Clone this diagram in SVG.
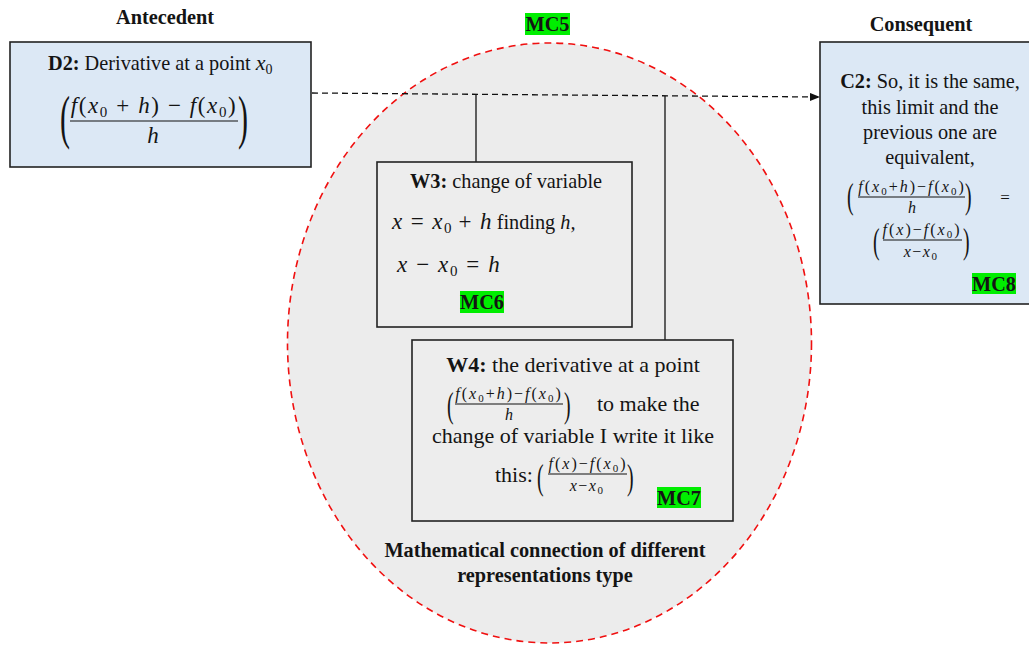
<svg xmlns="http://www.w3.org/2000/svg" width="1029" height="645" viewBox="0 0 1029 645" font-family="'Liberation Serif', serif">
<defs>
<style>
text{fill:#141414;}
.t{font-size:20.3px;}
.w{font-size:22px;}
.b{font-weight:bold;}
.h{font-size:20.3px;font-weight:bold;}
.m{font-style:italic;}
.box{fill:#dce8f5;stroke:#222;stroke-width:1.6;}
.wbox{fill:#ededed;stroke:#222;stroke-width:1.6;}
.tag{fill:#00ee00;}
.fl{stroke:#111;stroke-width:1.1;}
.con{stroke:#111;stroke-width:1.3;fill:none;}
.sf{font-size:16px;letter-spacing:2px;}
</style>
<marker id="arr" markerWidth="10" markerHeight="8" refX="9" refY="4" orient="auto" markerUnits="userSpaceOnUse">
<path d="M0,0 L10,4 L0,8 z" fill="#111"/>
</marker>
</defs>
<rect width="1029" height="645" fill="#fff"/>

<g id="mc5-region">
<ellipse cx="549.5" cy="343" rx="262" ry="300" fill="#ececec" stroke="#f01010" stroke-width="1.6" stroke-dasharray="7,5"/>
<rect class="tag" x="525" y="13" width="45" height="22"/>
<text class="h" x="547.5" y="31" text-anchor="middle">MC5</text>
<text class="h" x="545" y="557" text-anchor="middle">Mathematical connection of different</text>
<text class="h" x="545" y="582" text-anchor="middle">representations type</text>
</g>

<g id="labels">
<text class="h" x="165" y="24" text-anchor="middle">Antecedent</text>
<text class="h" x="921" y="31" text-anchor="middle">Consequent</text>
</g>

<g id="connectors">
<line class="con" x1="312" y1="93" x2="819" y2="97" stroke-dasharray="6,4" marker-end="url(#arr)"/>
<line class="con" x1="476" y1="95" x2="476" y2="162"/>
<line class="con" x1="665" y1="96" x2="665" y2="340"/>
</g>

<g id="D2">
<rect class="box" x="10" y="42" width="301" height="125"/>
<text class="t" x="48" y="70"><tspan class="b">D2:</tspan> Derivative at a point <tspan class="m" font-size="22">x</tspan><tspan font-size="14" dy="4">0</tspan></text>
<text transform="translate(60,137) scale(0.5,1)" font-size="60">(</text>
<text transform="translate(238,137) scale(0.5,1)" font-size="60">)</text>
<text x="154" y="113" text-anchor="middle" font-size="23" letter-spacing="1.6"><tspan class="m">f</tspan>(<tspan class="m">x</tspan><tspan font-size="15" dy="4">0</tspan><tspan dy="-4"> + </tspan><tspan class="m">h</tspan>) − <tspan class="m">f</tspan>(<tspan class="m">x</tspan><tspan font-size="15" dy="4">0</tspan><tspan dy="-4">)</tspan></text>
<line class="fl" x1="70" y1="121" x2="238" y2="121"/>
<text class="m" x="153" y="143" text-anchor="middle" font-size="23">h</text>
</g>

<g id="C2">
<rect class="box" x="820" y="42" width="215" height="262"/>
<text class="t" x="930" y="88" text-anchor="middle"><tspan class="b">C2:</tspan> So, it is the same,</text>
<text class="t" x="930" y="114" text-anchor="middle">this limit and the</text>
<text class="t" x="930" y="139" text-anchor="middle">previous one are</text>
<text class="t" x="930" y="164" text-anchor="middle">equivalent,</text>
<text transform="translate(847,208) scale(0.55,1)" font-size="36">(</text>
<text transform="translate(965,208) scale(0.55,1)" font-size="36">)</text>
<text class="sf" x="912" y="192" text-anchor="middle"><tspan class="m">f</tspan>(<tspan class="m">x</tspan><tspan font-size="11" dy="3">0</tspan><tspan dy="-3">+</tspan><tspan class="m">h</tspan>)−<tspan class="m">f</tspan>(<tspan class="m">x</tspan><tspan font-size="11" dy="3">0</tspan><tspan dy="-3">)</tspan></text>
<line class="fl" x1="858" y1="197" x2="965" y2="197"/>
<text class="m" x="912" y="213" text-anchor="middle" font-size="16">h</text>
<text x="1005" y="203" text-anchor="middle" font-size="17" fill="#777">=</text>
<text transform="translate(873,253) scale(0.55,1)" font-size="36">(</text>
<text transform="translate(963,253) scale(0.55,1)" font-size="36">)</text>
<text class="sf" x="922" y="235" text-anchor="middle"><tspan class="m">f</tspan>(<tspan class="m">x</tspan>)−<tspan class="m">f</tspan>(<tspan class="m">x</tspan><tspan font-size="11" dy="3">0</tspan><tspan dy="-3">)</tspan></text>
<line class="fl" x1="883" y1="240" x2="962" y2="240"/>
<text x="921" y="257" text-anchor="middle" font-size="16" letter-spacing="1.5"><tspan class="m">x</tspan>−<tspan class="m">x</tspan><tspan font-size="11" dy="3">0</tspan></text>
<rect class="tag" x="972" y="273" width="44" height="21"/>
<text class="h" x="994" y="291" text-anchor="middle">MC8</text>
</g>

<g id="W3">
<rect class="wbox" x="377" y="162" width="255" height="165"/>
<text class="t" x="410" y="188"><tspan class="b">W3:</tspan> change of variable</text>
<text x="392" y="229" font-size="23"><tspan letter-spacing="1.4"><tspan class="m">x</tspan> = <tspan class="m">x</tspan></tspan><tspan font-size="15" dy="4">0</tspan><tspan dy="-4" letter-spacing="1.4"> + </tspan><tspan class="m">h</tspan><tspan font-size="20.3"> finding </tspan><tspan class="m" font-size="20.3">h,</tspan></text>
<text x="397" y="272" font-size="23" letter-spacing="1.6"><tspan class="m">x</tspan> − <tspan class="m">x</tspan><tspan font-size="15" dy="4">0</tspan><tspan dy="-4"> = </tspan><tspan class="m">h</tspan></text>
<rect class="tag" x="460" y="291" width="44" height="22"/>
<text class="h" x="482" y="309" text-anchor="middle">MC6</text>
</g>

<g id="W4">
<rect class="wbox" x="412" y="340" width="321" height="181"/>
<text class="w" x="573" y="372" text-anchor="middle"><tspan class="b">W4:</tspan> the derivative at a point</text>
<text transform="translate(447,417) scale(0.55,1)" font-size="36">(</text>
<text transform="translate(564,417) scale(0.55,1)" font-size="36">)</text>
<text class="sf" x="509" y="399" text-anchor="middle"><tspan class="m">f</tspan>(<tspan class="m">x</tspan><tspan font-size="11" dy="3">0</tspan><tspan dy="-3">+</tspan><tspan class="m">h</tspan>)−<tspan class="m">f</tspan>(<tspan class="m">x</tspan><tspan font-size="11" dy="3">0</tspan><tspan dy="-3">)</tspan></text>
<line class="fl" x1="455" y1="404" x2="563" y2="404"/>
<text class="m" x="509" y="420" text-anchor="middle" font-size="16">h</text>
<text class="w" x="597" y="411">to make the</text>
<text class="w" x="573" y="443" text-anchor="middle">change of variable I write it like</text>
<text class="w" x="495" y="482">this:</text>
<text transform="translate(537,489) scale(0.55,1)" font-size="36">(</text>
<text transform="translate(627,489) scale(0.55,1)" font-size="36">)</text>
<text class="sf" x="588" y="469" text-anchor="middle"><tspan class="m">f</tspan>(<tspan class="m">x</tspan>)−<tspan class="m">f</tspan>(<tspan class="m">x</tspan><tspan font-size="11" dy="3">0</tspan><tspan dy="-3">)</tspan></text>
<line class="fl" x1="548" y1="474" x2="627" y2="474"/>
<text x="587" y="491" text-anchor="middle" font-size="16" letter-spacing="1.5"><tspan class="m">x</tspan>−<tspan class="m">x</tspan><tspan font-size="11" dy="3">0</tspan></text>
<rect class="tag" x="657" y="487" width="44" height="21"/>
<text class="h" x="679" y="505" text-anchor="middle">MC7</text>
</g>
</svg>
